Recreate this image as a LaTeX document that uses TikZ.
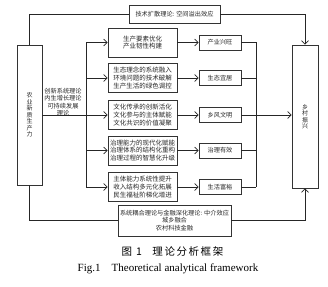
\documentclass[tikz,border=0pt]{standalone}
\usepackage{fontspec}
\setmainfont{Liberation Serif}
\newfontfamily\cjk{Noto Sans CJK SC}
\newfontfamily\cjkcap[LetterSpace=15]{Noto Sans CJK SC}
\usetikzlibrary{arrows.meta,positioning,calc}
\tikzset{
  box/.style={draw=black!80,line width=0.9pt,align=center,inner sep=1pt,
              font=\cjk\fontsize{6.2}{7.6}\selectfont,text=black!85},
  midbox/.style={box,minimum width=69pt,minimum height=29pt,font=\cjk\fontsize{6.5}{7.8}\selectfont},
  goalbox/.style={box,minimum width=42pt,minimum height=15pt},
  tallbox/.style={box,font=\cjk\fontsize{6}{6.5}\selectfont,minimum width=25pt},
  arr/.style={-{Straight Barb[length=3.5pt,width=7pt]},line width=0.7pt,black!85},
  ln/.style={line width=0.7pt,black!85},
  lbl/.style={align=center,font=\cjk\fontsize{6.2}{7.5}\selectfont,text=black!85},
}
\begin{document}
\begin{tikzpicture}[x=1pt,y=-1pt]
\useasboundingbox (0,0) rectangle (328,286);
\node[tallbox,minimum height=140pt] (farm) at (29.5,115) {农\\业\\新\\质\\生\\产\\力};
\node[tallbox,minimum height=143pt,minimum width=26pt] (rural) at (305,116.5) {乡\\村\\振\\兴};
\node[box,minimum width=91pt,minimum height=18pt] (diff) at (174.5,14) {技术扩散理论: 空间溢出效应};
\node[box,minimum width=113pt,minimum height=31pt] (coup) at (174.5,220.5)
 {系统耦合理论与金融深化理论: 中介效应\\城乡融合\\农村科技金融};
\node[lbl] (theo) at (63,102) {创新系统理论\\内生增长理论\\可持续发展\\理论};
% five paths: mechanism box -> goal box
\foreach \i/\y/\txt/\goal in {1/42.5/{生产要素优化\\产业韧性构建}/产业兴旺,
  2/78/{生态理念的系统融入\\环境问题的技术破解\\生产生活的绿色调控}/生态宜居,
  3/115/{文化传承的创新活化\\文化参与的主体赋能\\文化共识的价值凝聚}/乡风文明,
  4/150.5/{治理能力的现代化赋能\\治理体系的结构化重构\\治理过程的智慧化升级}/治理有效,
  5/187/{主体能力系统性提升\\收入结构多元化拓展\\民生福祉阶梯化增进}/生活富裕}{
  \node[midbox] (m\i) at (142.5,\y) {\txt};
  \node[goalbox] (g\i) at (220,\y) {\goal};
  \coordinate (lb\i) at (86,\y);
  \coordinate (rb\i) at (256,\y);
  \draw[arr] (lb\i) -- (m\i);
  \draw[arr] (m\i) -- (g\i);
  \draw[ln] (g\i) -- (rb\i);}
\draw[ln] (lb1) -- (lb5);
\draw[ln] (rb1) -- (rb5);
\draw[ln] (farm.east |- lb3) -- (lb3);
\draw[arr] (g3.east) -- (g3.east -| rural.west);
\draw[ln] (farm.north) |- (diff.west);
\draw[arr] (diff.east) -| (rural.north);
\draw[ln] (farm.south) |- (coup.west);
\draw[arr] (coup.east) -| (rural.south);
\node[font=\cjkcap\fontsize{10.5}{12}\selectfont] (capzh) at (172.5,252) {图 1\quad 理论分析框架};
\node[font=\fontsize{11}{13}\selectfont] (capen) at (168,269) {Fig.1\quad Theoretical analytical framework};
\end{tikzpicture}
\end{document}
